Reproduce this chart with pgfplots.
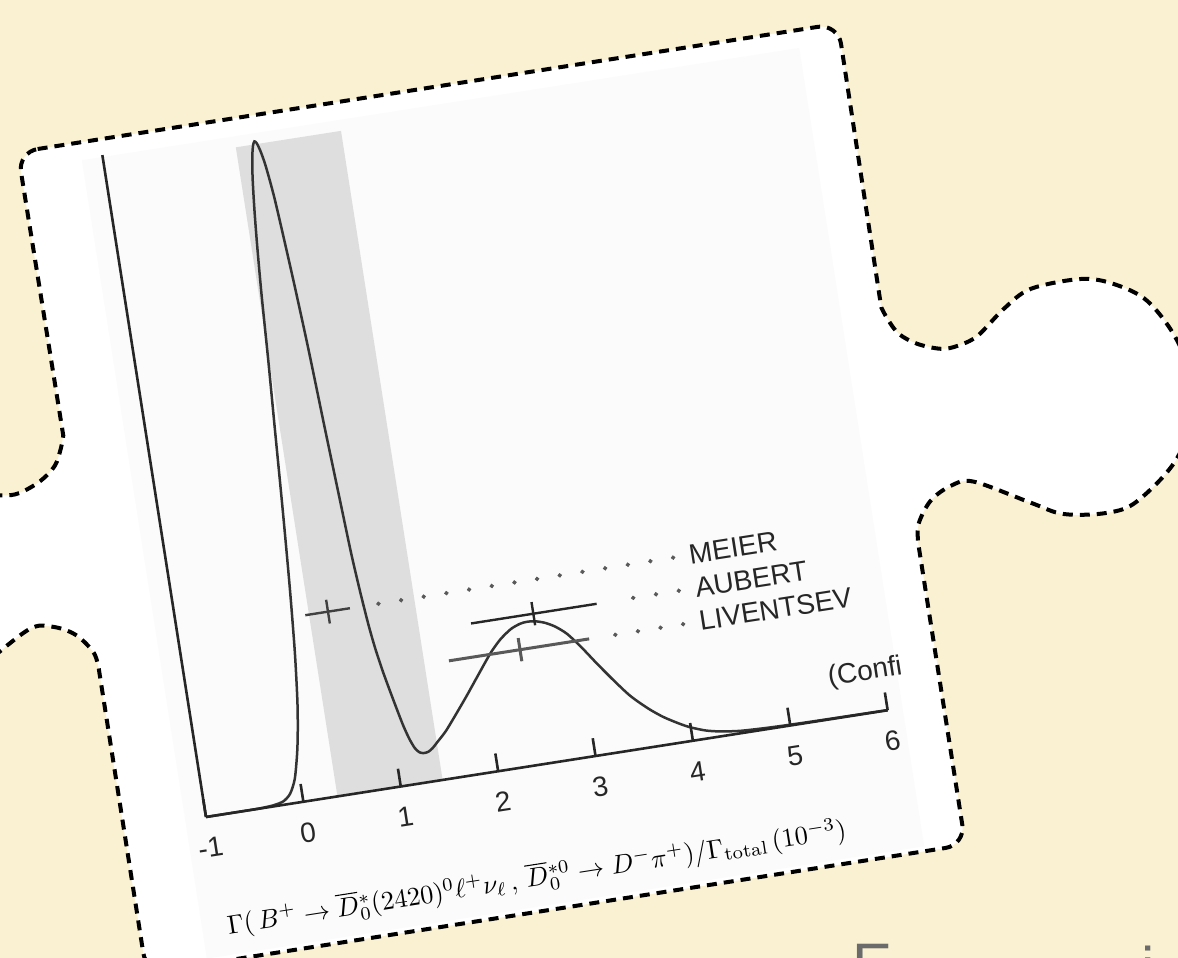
\documentclass[border=0pt]{standalone}
\usepackage{pgfplots}
\pgfplotsset{compat=1.18}
\usepackage{fontspec}
\usepackage{graphicx}
\newfontfamily\arial{Liberation Sans}
\definecolor{paper}{RGB}{250,241,210}
\definecolor{band}{RGB}{222,222,222}
\begin{document}
\begin{tikzpicture}[x=0.5pt,y=0.5pt]
\useasboundingbox (0,0) rectangle (1178,958);
\clip (0,0) rectangle (1178,958);
\fill[paper] (0,0) rectangle (1178,958);
\def\puzzlepath{(-63,686) -- (727,686) .. controls (738,686) and (747,677) .. (747,666) -- (746,405)
 -- plot[smooth, tension=0.55] coordinates {(746,399) (750.3,386.8) (759.2,370.2) (776,357.4) (798.4,348.9) (815.3,349.2) (836.7,356) (866.8,378.6) (896.6,394.2) (947.6,396.2) (979.4,386.1) (1010,364) (1033.4,319.9) (1044,262) (1015.2,204.6) (969,168) (937.5,161.1) (894.1,166.7) (863.3,183) (810.3,212.6) (786.9,211.9) (764.8,200.3) (749.4,179.4) (746,160)}
 -- (746,-125) .. controls (746,-136) and (737,-145) .. (726,-145) -- (-63,-145) .. controls (-74,-145) and (-83,-136) .. (-83,-125) -- (-83,160)
 -- plot[smooth, tension=0.55] coordinates {(-83,160) (-85.4,179.4) (-100.8,200.3) (-122.9,211.9) (-146.3,212.6) (-199.3,183) (-230.1,166.7) (-273.5,161.1) (-305,168) (-351,204.6) (-380,262) (-369.4,319.9) (-346,364) (-315.4,386.1) (-283.6,396.2) (-232.6,394.2) (-202.8,378.6) (-172.7,356) (-151.3,349.2) (-134.4,348.9) (-112,357.4) (-95.2,370.2) (-86.3,386.8) (-82,399)}
 -- (-83,666) .. controls (-83,677) and (-74,686) .. (-63,686) -- cycle}
\begin{scope}[shift={(206,141)},rotate=8.9]
 \fill[white] \puzzlepath;
 \fill[gray!3] (-21,-140) rectangle (705,668);
\end{scope}
\begin{scope}[transform canvas={shift={(206,141)},rotate=8.9}]
\begin{axis}[
  at={(0,0)}, anchor=south west, scale only axis,
  width=345pt, height=335pt,
  xmin=-1, xmax=6, ymin=0, ymax=670,
  axis x line=bottom, axis y line=left,
  axis line style={-, line width=1.3pt, black!85},
  xtick={-1,0,1,2,3,4,5,6},
  xticklabels={-1,0,1,2,3,4,5,6},
  ytick=\empty,
  tick align=inside,
  major tick length=9pt,
  xtick style={line width=1.3pt, black!85},
  xticklabel style={font=\arial\fontsize{14}{16}\selectfont, anchor=center, yshift=-15.5pt, text=black!85},
  clip=false, axis on top,
]
\addplot[fill=band, draw=none] coordinates {(0.35,0) (0.35,657) (1.43,657) (1.43,0)} \closedcycle;
\addplot[black!80, line width=1.25pt, smooth, tension=0.45] coordinates {
(-1,0) (-0.5,0.1) (-0.4,0.4) (-0.3,1.2) (-0.2,3.5) (-0.12,10) (-0.05,24) (0.016,50) (0.06,74) (0.10,102) (0.15,150) (0.2,214) (0.25,290) (0.3,374) (0.34,440) (0.377,508) (0.41,557) (0.439,593) (0.47,624) (0.5,645) (0.525,656) (0.545,660) (0.565,658) (0.59,650) (0.62,634) (0.66,598) (0.716,520) (0.76,448) (0.80,368) (0.84,292) (0.869,238) (0.90,197) (0.93,165) (0.96,141) (1.00,117) (1.04,97) (1.08,78) (1.12,60) (1.16,46) (1.20,36) (1.24,31) (1.28,29.5) (1.33,30) (1.38,33) (1.434,38) (1.5,44) (1.55,49) (1.66,62) (1.8,79) (1.95,98) (2.11,118) (2.23,130) (2.35,138.5) (2.45,142.3) (2.52,143.2) (2.6,142.6) (2.7,139.5) (2.8,134) (2.907,125) (3.03,109.5) (3.16,91) (3.3,72) (3.443,54) (3.6,39) (3.742,28) (3.9,18.5) (4.0,13.5) (4.15,8) (4.3,4.8) (4.5,2.4) (4.8,1.2) (5.2,0.6) (6,0.2)};
% MEIER
\addplot[black!75, line width=1.2pt] coordinates {(0.312,184) (0.77,184)};
\addplot[black!75, line width=1.2pt] coordinates {(0.545,172) (0.545,196)};
% AUBERT
\addplot[black!85, line width=1.2pt] coordinates {(1.96,150.2) (3.25,150.2)};
\addplot[black!85, line width=1.2pt] coordinates {(2.60,138.5) (2.60,162)};
% LIVENTSEV
\addplot[black!65, line width=1.5pt] coordinates {(1.68,116.7) (3.12,116.7)};
\addplot[black!65, line width=1.5pt] coordinates {(2.41,105) (2.41,128.5)};
% dots
\addplot[only marks, mark=*, mark size=0.9pt, black!65] coordinates {(1.063,184) (1.296,184) (1.528,184) (1.761,184) (1.994,184) (2.227,184) (2.460,184) (2.692,184) (2.925,184) (3.158,184) (3.391,184) (3.624,184) (3.856,184) (4.089,184)};
\addplot[only marks, mark=*, mark size=0.9pt, black!65] coordinates {(3.626,150.4) (3.860,150.4) (4.094,150.4)};
\addplot[only marks, mark=*, mark size=0.9pt, black!65] coordinates {(3.389,116.7) (3.621,116.7) (3.853,116.7) (4.085,116.7)};
\node[anchor=base west, inner sep=0, font=\arial\fontsize{14}{16}\selectfont, text=black!85] at (axis cs:4.25,174.6) {MEIER};
\node[anchor=base west, inner sep=0, font=\arial\fontsize{14}{16}\selectfont, text=black!85] at (axis cs:4.26,141.3) {AUBERT};
\node[anchor=base west, inner sep=0, font=\arial\fontsize{14}{16}\selectfont, text=black!85] at (axis cs:4.25,107.7) {LIVENTSEV};
\node[anchor=base west, inner sep=0, font=\arial\fontsize{14}{16}\selectfont, text=black!85] at (axis cs:5.45,33.3) {(Confi};
\node[anchor=base, inner sep=0] at (axis cs:2.22,-119.5) {\resizebox{313pt}{!}{$\Gamma(\,B^{+}\rightarrow\overline{D}{}^{*}_{0}(2420)^{0}\ell^{+}\nu_{\ell}\,,\,\overline{D}{}^{*0}_{0}\rightarrow D^{-}\pi^{+})/\Gamma_{\mathrm{total}}\,(10^{-3})$}};
\end{axis}
\end{scope}
\begin{scope}[shift={(206,141)},rotate=8.9]
 \draw[black, line width=2pt, dash pattern=on 5pt off 3.5pt] \puzzlepath;
\end{scope}
\node[anchor=base west, inner sep=0, font=\arial\fontsize{30}{34}\selectfont, text=black!58] at (852,-28) {E};
\node[anchor=base west, inner sep=0, font=\arial\fontsize{30}{34}\selectfont, text=black!58] at (1141,-32) {i};
\end{tikzpicture}
\end{document}
